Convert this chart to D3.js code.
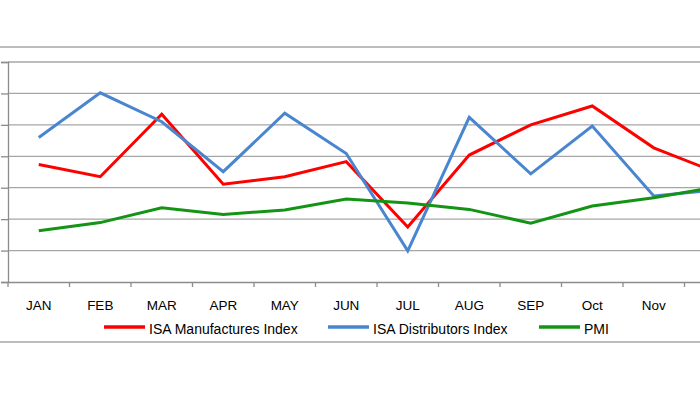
<!DOCTYPE html>
<html>
<head>
<meta charset="utf-8">
<script src="https://cdn.jsdelivr.net/npm/d3@7"></script>
<style>
  html, body { margin: 0; padding: 0; background: #fff; }
  svg { display: block; }
  text { font-family: "Liberation Sans", Arial, sans-serif; fill: #000; }
</style>
</head>
<body>
<svg id="chart" width="700" height="394"></svg>
<script>
const months = ["JAN","FEB","MAR","APR","MAY","JUN","JUL","AUG","SEP","Oct","Nov","Dec"];
const manufactures = [37.4, 33.5, 53.4, 31.1, 33.5, 38.3, 17.5, 40.4, 50.0, 56.0, 42.7, 35.0];
const distributors = [46.0, 60.2, 51.0, 35.1, 53.7, 40.9, 9.9, 52.4, 34.4, 49.6, 27.4, 29.3];
const pmi = [16.3, 18.9, 23.6, 21.5, 22.9, 26.4, 25.1, 23.1, 18.7, 24.2, 26.8, 30.2];
const yTicks = [0, 10, 20, 30, 40, 50, 60, 70];
const seriesNames = ["ISA Manufactures Index", "ISA Distributors Index", "PMI"];
const seriesColors = ["#ff0000", "#4a86cf", "#149414"];

const W = 700;
const svg = d3.select("#chart");
const plot = { left: 8, right: 746, top: 62, bottom: 282 };

const x = d3.scaleBand().domain(months).range([plot.left, plot.right]).padding(0);
const y = d3.scaleLinear().domain([0, 70]).range([plot.bottom, plot.top]);

// frame lines (top and bottom separators)
svg.append("line").attr("x1", 0).attr("x2", W).attr("y1", 47).attr("y2", 47)
  .attr("stroke", "#a6a6a6").attr("stroke-width", 1.5);
svg.append("line").attr("x1", 0).attr("x2", W).attr("y1", 342).attr("y2", 342)
  .attr("stroke", "#a6a6a6").attr("stroke-width", 1.5);

// gridlines
svg.append("g").selectAll("line").data(yTicks.filter(d => d > 0)).join("line")
  .attr("x1", plot.left).attr("x2", plot.right)
  .attr("y1", d => y(d)).attr("y2", d => y(d))
  .attr("stroke", "#a6a6a6").attr("stroke-width", 1.3);

// y axis
const yAxis = svg.append("g").attr("transform", `translate(${plot.left},0)`)
  .call(d3.axisLeft(y).tickValues(yTicks).tickSize(7).tickFormat(""));
yAxis.selectAll("path, line").attr("stroke", "#8c8c8c").attr("stroke-width", 1.3);

// x axis: labels centered in bands, ticks on band boundaries
const xAxis = svg.append("g").attr("transform", `translate(0,${plot.bottom})`)
  .call(d3.axisBottom(x).tickSize(0).tickPadding(0));
xAxis.select(".domain").attr("stroke", "#8c8c8c").attr("stroke-width", 1.3);
xAxis.selectAll("text").attr("y", 28).attr("dy", 0)
  .style("font-size", "13.5px").style("font-family", "'Liberation Sans', Arial, sans-serif");
// labels whose band centre falls outside the visible window are cropped away in the reference
xAxis.selectAll(".tick").filter(d => x(d) + x.bandwidth() / 2 > W).remove();
const bounds = months.map(m => x(m)).concat([plot.right]);
xAxis.selectAll("line.bt").data(bounds).join("line").attr("class", "bt")
  .attr("x1", d => d).attr("x2", d => d).attr("y1", 0).attr("y2", 5)
  .attr("stroke", "#8c8c8c").attr("stroke-width", 1.3);

// lines
const line = d3.line().x((d, i) => x(months[i]) + x.bandwidth() / 2).y(d => y(d));
[manufactures, distributors, pmi].forEach((vals, i) => {
  svg.append("path").datum(vals)
    .attr("d", line)
    .attr("fill", "none")
    .attr("stroke", seriesColors[i])
    .attr("stroke-width", 3)
    .attr("stroke-linejoin", "miter");
});

// legend
const legendX = [104, 328, 539];
const legend = svg.append("g");
seriesNames.forEach((name, i) => {
  const g = legend.append("g").attr("transform", `translate(${legendX[i]},327)`);
  g.append("line").attr("x1", 0).attr("x2", 41).attr("y1", 0).attr("y2", 0)
    .attr("stroke", seriesColors[i]).attr("stroke-width", 3.5);
  g.append("text").attr("x", 45).attr("y", 7).style("font-size", "14px").text(name);
});
</script>
</body>
</html>
